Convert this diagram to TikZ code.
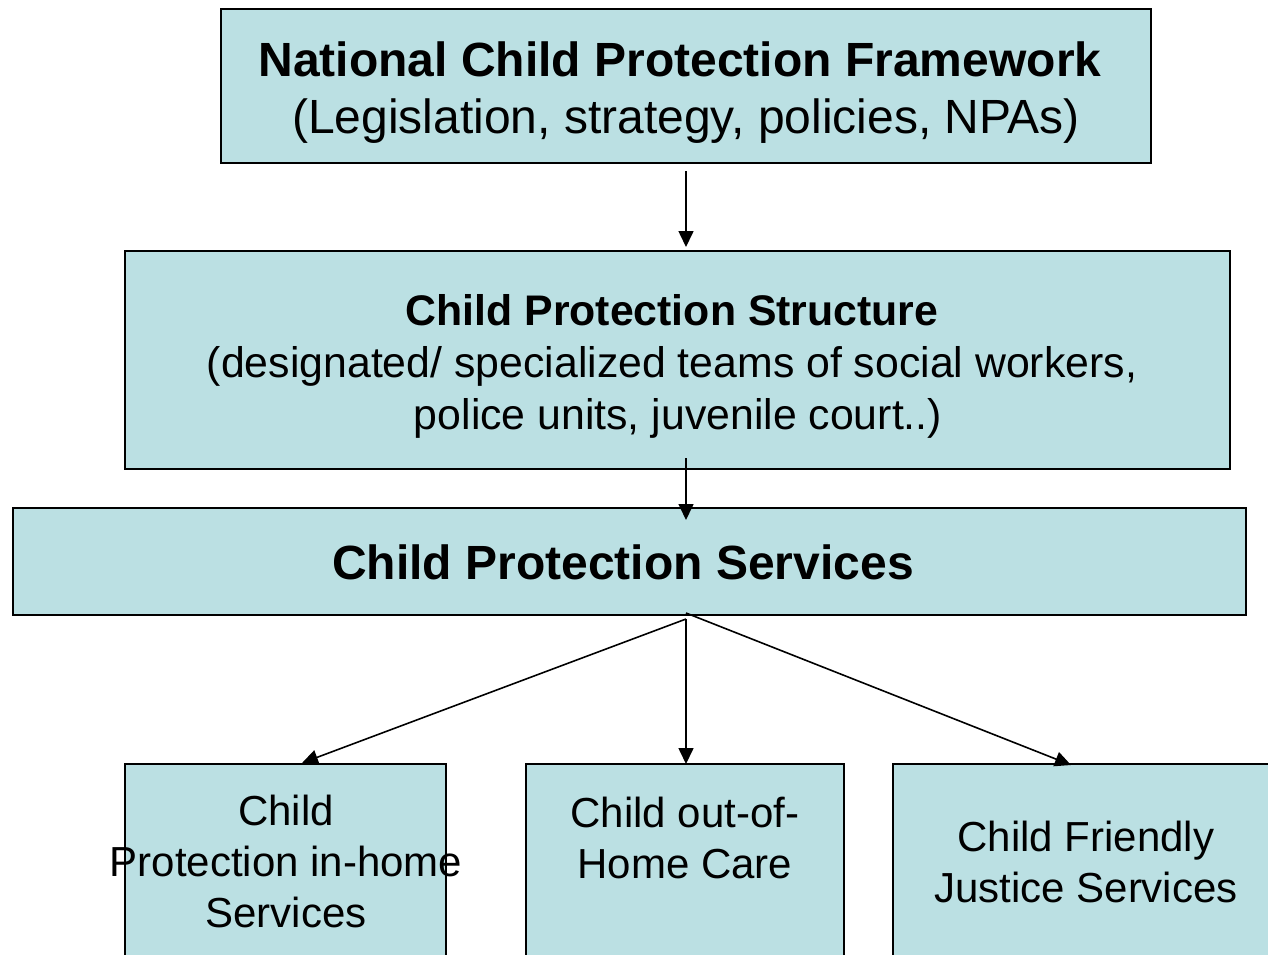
\documentclass[tikz,border=0pt]{standalone}
\usepackage{fontspec}
\setmainfont{Liberation Sans}
\usetikzlibrary{arrows.meta}
\definecolor{boxfill}{HTML}{BBE0E3}
\begin{document}
\begin{tikzpicture}[x=1pt,y=-1pt,
  box/.style={draw=black, line width=1.8pt, fill=boxfill, rectangle, inner sep=0pt},
  lbl/.style={align=center, inner sep=0pt, text=black},
  big/.style={font=\fontsize{48}{57}\selectfont},
  mid/.style={font=\fontsize{42.8}{52}\selectfont},
  small/.style={font=\fontsize{42}{51}\selectfont},
  arr/.style={draw=black, line width=1.6pt, -{Triangle[length=16pt,width=15pt]}}]
\useasboundingbox (0,0) rectangle (1268,954);
\clip (0,0) rectangle (1268,954);
% boxes
\node[box, minimum width=930pt, minimum height=154pt] (top) at (686,86) {};
\node[box, minimum width=1105pt, minimum height=218pt] (struct) at (677.5,360) {};
\node[box, minimum width=1233pt, minimum height=107pt] (serv) at (629.5,561.5) {};
\node[box, minimum width=321pt, minimum height=220pt] (home) at (285.5,874) {};
\node[box, minimum width=318pt, minimum height=220pt] (care) at (685,874) {};
\node[box, minimum width=400pt, minimum height=220pt] (just) at (1093,874) {};
% labels
\node[lbl, big] (toplbl) at (680,92.5) {\textbf{National Child Protection Framework}\\ \hspace*{12pt}(Legislation, strategy, policies, NPAs)};
\node[lbl, mid] (structlbl) at (672,366) {\textbf{Child Protection Structure}\\(designated/ specialized teams of social workers,\\ \hspace*{12pt}police units, juvenile court..)};
\node[lbl, big] (servlbl) at (623,562) {\textbf{Child Protection Services}};
\node[lbl, small] (homelbl) at (286,861) {Child\\Protection in-home\\Services};
\node[lbl, small] (carelbl) at (685,837.5) {Child out-of-\\Home Care};
\node[lbl, small] (justlbl) at (1086,861.5) {Child Friendly\\Justice Services};
% connector points
\coordinate (a1s) at (686,171);
\coordinate (a1e) at (686,247);
\coordinate (a2s) at (686,458);
\coordinate (a2e) at (686,520);
\coordinate (hub) at (686,619);
\coordinate (hubr) at (686,613);
\coordinate (homein) at (302,763);
\coordinate (carein) at (686,764);
\coordinate (justin) at (1071,765);
% connectors
\draw[arr] (a1s) -- (a1e);
\draw[arr] (a2s) -- (a2e);
\draw[arr] (hub) -- (carein);
\draw[arr] (hub) -- (homein);
\draw[arr] (hubr) -- (justin);
\end{tikzpicture}
\end{document}
